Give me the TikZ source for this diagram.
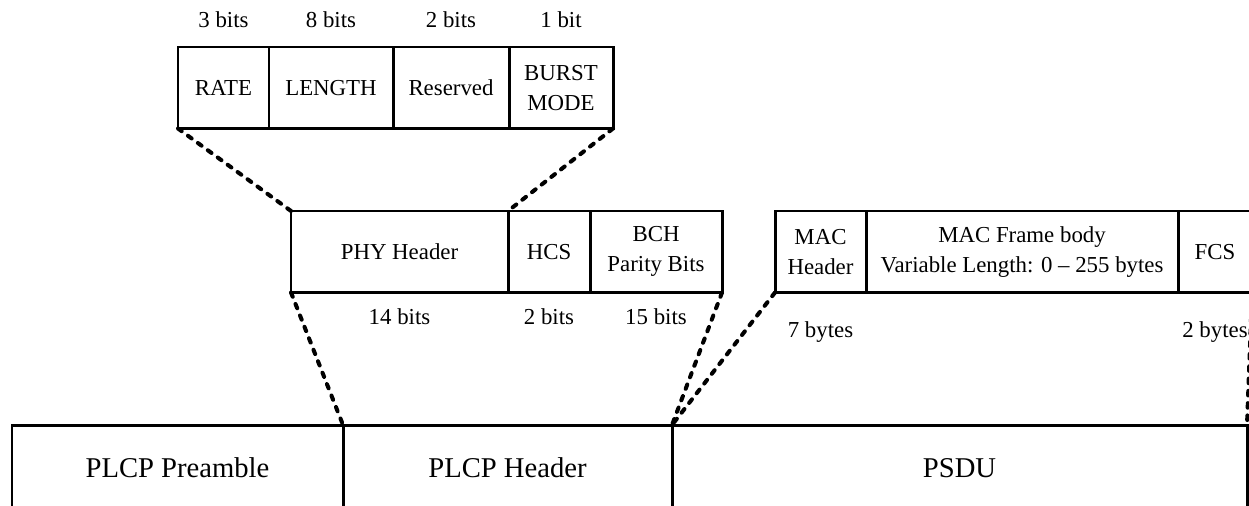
\documentclass[tikz,border=0pt]{standalone}
\usepackage{fontspec}
\setmainfont{Liberation Serif}
\usetikzlibrary{positioning}

\begin{document}
\begin{tikzpicture}[
    node distance=0pt,
    every node/.style={font=\fontsize{13}{17}\selectfont, inner sep=0pt, outer sep=0pt, align=center},
    cell/.style={draw, line width=1.7pt, minimum width=#1, minimum height=1.63cm},
    plcp/.style={draw, line width=1.7pt, minimum width=#1, minimum height=1.72cm, font=\fontsize{16.3}{19}\selectfont},
    lbl/.style={text height=9pt, text depth=3pt},
    zoomline/.style={line width=2.3pt, line cap=round, dash pattern=on 2.6pt off 4.4pt}
]
\useasboundingbox (0,0) rectangle (24.98,-10.1);
\clip (0,0) rectangle (24.98,-10.1);

% header fields
\node[cell=1.82cm, anchor=north west] (rate) at (3.56,-0.94) {RATE};
\node[cell=2.48cm, right=of rate] (len) {LENGTH};
\node[cell=2.32cm, right=of len] (resv) {Reserved};
\node[cell=2.08cm, right=of resv] (burst) {BURST\\MODE};

\node[lbl, above=0.28cm of rate] (bitsrate) {3 bits};
\node[lbl, above=0.28cm of len] (bitslen) {8 bits};
\node[lbl, above=0.28cm of resv] (bitsresv) {2 bits};
\node[lbl, above=0.28cm of burst] (bitsburst) {1 bit};

% PLCP header
\node[cell=4.34cm, anchor=north west] (phy) at (5.82,-4.22) {PHY Header};
\node[cell=1.64cm, right=of phy] (hcs) {HCS};
\node[cell=2.64cm, right=of hcs] (bch) {BCH\\Parity Bits};

\node[lbl, below=0.32cm of phy] (bitsphy) {14 bits};
\node[lbl, below=0.32cm of hcs] (bitshcs) {2 bits};
\node[lbl, below=0.32cm of bch] (bitsbch) {15 bits};

% MAC frame
\node[cell=1.82cm, anchor=north west] (machdr) at (15.5,-4.22) {MAC\\Header};
\node[cell=6.24cm, right=of machdr] (body) {MAC Frame body\\Variable Length: 0 -- 255 bytes};
\node[cell=1.48cm, right=of body] (fcs) {FCS};

\node[lbl, below=0.58cm of machdr] (bytesmac) {7 bytes};
\node[lbl, below=0.58cm of fcs] (bytesfcs) {2 bytes};

% PPDU
\node[plcp=6.62cm, anchor=north west] (pre) at (0.24,-8.5) {PLCP Preamble};
\node[plcp=6.58cm, right=of pre] (hdr) {PLCP Header};
\node[plcp=11.5cm, right=of hdr] (psdu) {PSDU};

\path[zoomline]
 (rate.south west) edge (phy.north west)
 (burst.south east) edge (hcs.north west)
 (phy.south west) edge (hdr.north west)
 (bch.south east) edge (psdu.north west)
 (machdr.south west) edge (psdu.north west)
 (fcs.south east) edge (psdu.north east);
\end{tikzpicture}
\end{document}
